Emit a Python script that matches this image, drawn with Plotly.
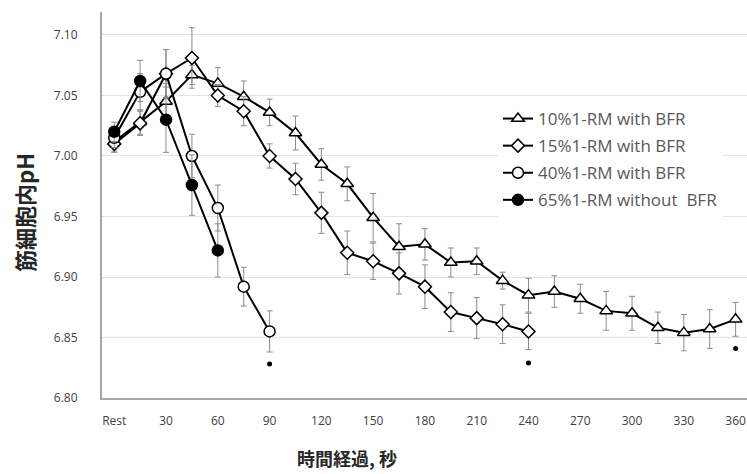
import plotly.graph_objects as go

# ---- data ----
t10 = [0, 15, 30, 45, 60, 75, 90, 105, 120, 135, 150, 165, 180, 195, 210, 225, 240,
       255, 270, 285, 300, 315, 330, 345, 360]
ph10 = [7.012, 7.028, 7.045, 7.067, 7.060, 7.049, 7.036, 7.019, 6.993, 6.977, 6.949,
        6.925, 6.927, 6.912, 6.913, 6.897, 6.885, 6.888, 6.882, 6.872, 6.870, 6.858,
        6.854, 6.857, 6.865]
err10 = [0.008, 0.010, 0.015, 0.008, 0.013, 0.013, 0.011, 0.014, 0.013, 0.014, 0.020,
         0.019, 0.013, 0.012, 0.011, 0.007, 0.014, 0.013, 0.012, 0.016, 0.014, 0.013,
         0.015, 0.016, 0.014]

t15 = [0, 15, 30, 45, 60, 75, 90, 105, 120, 135, 150, 165, 180, 195, 210, 225, 240]
ph15 = [7.010, 7.027, 7.068, 7.081, 7.050, 7.037, 7.000, 6.981, 6.953, 6.920, 6.913,
        6.903, 6.892, 6.871, 6.866, 6.861, 6.855]
err15 = [0.007, 0.010, 0.020, 0.025, 0.009, 0.012, 0.010, 0.013, 0.017, 0.018, 0.015,
         0.017, 0.018, 0.016, 0.017, 0.016, 0.015]

t40 = [0, 15, 30, 45, 60, 75, 90]
ph40 = [7.015, 7.053, 7.068, 7.000, 6.957, 6.892, 6.855]
err40 = [0.008, 0.015, 0.020, 0.018, 0.019, 0.016, 0.017]

t65 = [0, 15, 30, 45, 60]
ph65 = [7.020, 7.062, 7.030, 6.976, 6.922]
err65 = [0.008, 0.017, 0.027, 0.025, 0.022]

sig_t = [90, 240, 360]
sig_y = [6.828, 6.829, 6.841]

names = ["10%1-RM with BFR", "15%1-RM with BFR", "40%1-RM with BFR", "65%1-RM without  BFR"]

x_tickvals = [0, 30, 60, 90, 120, 150, 180, 210, 240, 270, 300, 330, 360]
x_ticktext = ["Rest", "30", "60", "90", "120", "150", "180", "210", "240", "270", "300", "330", "360"]
y_tickvals = [6.80, 6.85, 6.90, 6.95, 7.00, 7.05, 7.10]
y_ticktext = ["6.80", "6.85", "6.90", "6.95", "7.00", "7.05", "7.10"]

x_title = "時間経過, 秒"
y_title = "筋細胞内pH"

fig = go.Figure()

series = [
    (t10, ph10, err10, names[0], "triangle-up", 11, "white"),
    (t15, ph15, err15, names[1], "diamond", 10, "white"),
    (t40, ph40, err40, names[2], "circle", 11, "white"),
    (t65, ph65, err65, names[3], "circle", 11, "black"),
]
for i, (tx, py, er, nm, sym, sz, fc) in enumerate(series):
    fig.add_trace(go.Scatter(
        x=tx, y=py, name=nm, mode="lines+markers",
        legendgroup=f"g{i}",
        line=dict(color="black", width=2),
        marker=dict(symbol=sym, size=sz, color=fc, line=dict(color="black", width=1.5)),
        error_y=dict(type="data", array=er, visible=True, color="#8c8c8c",
                     thickness=1, width=3),
    ))

fig.add_trace(go.Scatter(
    x=sig_t, y=sig_y, mode="markers", showlegend=False,
    marker=dict(symbol="circle", size=5, color="black"),
))

W, H = 747, 474
ML, MR, MT, MB = 102, 0, 12, 76
pw, ph = W - ML - MR, H - MT - MB

fig.update_layout(
    width=W, height=H,
    margin=dict(l=ML, r=MR, t=MT, b=MB),
    paper_bgcolor="white", plot_bgcolor="white",
    font=dict(family="Open Sans, DejaVu Sans", color="#404040"),
    legend=dict(
        x=(498 - ML) / pw, y=(398 - 101) / ph, xanchor="left", yanchor="top",
        bgcolor="white", font=dict(size=17, color="#595959"),
        traceorder="grouped", tracegroupgap=2,
    ),
    xaxis=dict(
        range=[-7.1, 366.6], tickvals=x_tickvals, ticktext=x_ticktext,
        showgrid=False, zeroline=False, showline=True, linecolor="#a6a6a6",
        linewidth=2, ticks="", tickfont=dict(size=12, color="#404040"),
        ticklabelstandoff=11, automargin=False,
    ),
    yaxis=dict(
        range=[6.80, 7.119], tickvals=y_tickvals, ticktext=y_ticktext,
        showgrid=True, gridcolor="#e3e3e3", gridwidth=1, zeroline=False,
        showline=True, linecolor="#a6a6a6", linewidth=2, ticks="",
        tickfont=dict(size=12, color="#404040"), ticklabelstandoff=20,
        automargin=False,
    ),
    annotations=[
        dict(text=x_title, xref="paper", yref="paper",
             x=(347 - ML) / pw, y=-(458 - (H - MB)) / ph,
             xanchor="center", yanchor="middle", showarrow=False,
             font=dict(family="Noto Sans CJK JP", size=18, color="#262626", weight="bold")),
        dict(text=y_title, xref="paper", yref="paper",
             x=-(ML - 24) / pw, y=(H - MB - 213) / ph, textangle=-90,
             xanchor="center", yanchor="middle", showarrow=False,
             font=dict(family="Noto Sans CJK JP", size=22, color="#262626", weight="bold")),
    ],
)

fig.write_html("out.html", config={"displayModeBar": False},
               post_script="document.body.style.margin='0';document.body.style.overflow='hidden';")
